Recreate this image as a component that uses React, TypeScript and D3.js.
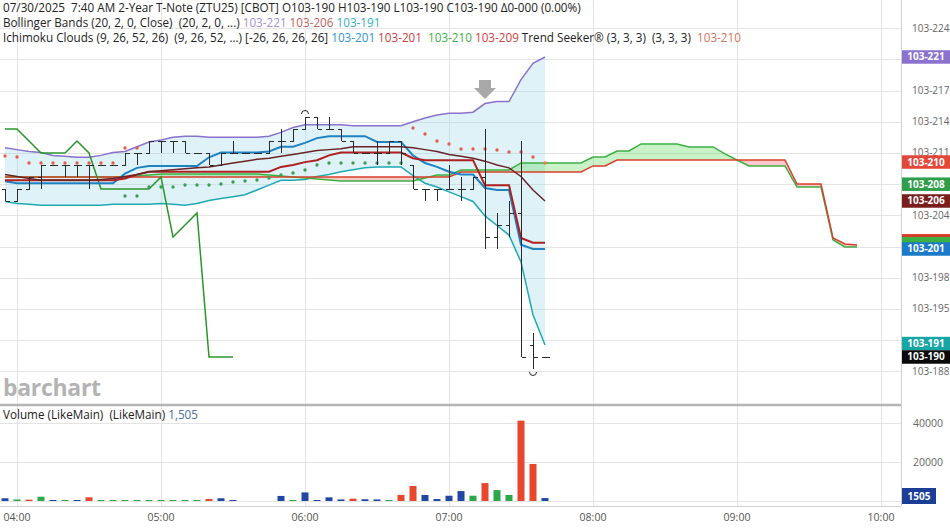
import React from 'react';
import * as d3 from 'd3';

// ---------- data (prices in 32nds above 103) ----------
const barOpen = [20.75,20.625,20.75,20.875,21.0,21.0,21.0,21.0,21.0,21.0,21.0,21.125,21.125,21.25,21.25,21.25,21.125,21.125,21.0,21.125,21.125,21.125,21.125,21.25,21.25,21.375,21.5,21.375,21.375,21.25,21.125,21.125,21.125,21.25,21.0,20.75,20.75,20.75,20.75,20.75,20.875,20.25,20.375,20.5,19.125,19.0];
const barHigh = [20.75,20.75,20.875,21.0,21.0,21.0,21.0,21.0,21.0,21.0,21.125,21.125,21.25,21.25,21.25,21.25,21.125,21.125,21.125,21.25,21.125,21.125,21.25,21.375,21.375,21.5,21.5,21.5,21.375,21.25,21.125,21.25,21.25,21.25,21.0,20.75,20.75,21.0,20.875,20.875,21.375,20.5,20.625,21.25,19.25,19.0];
const barLow = [20.625,20.625,20.75,20.75,21.0,20.875,20.875,20.75,21.0,21.0,21.0,21.0,21.125,21.125,21.125,21.125,21.125,21.0,21.0,21.125,21.125,21.125,21.125,21.125,21.25,21.375,21.375,21.375,21.25,21.125,21.125,21.0,21.125,21.0,20.75,20.625,20.625,20.75,20.625,20.75,20.125,20.125,20.25,19.0,18.875,19.0];
const barClose = [20.625,20.75,20.875,21.0,21.0,21.0,21.0,21.0,21.0,21.0,21.125,21.125,21.25,21.25,21.25,21.125,21.125,21.0,21.125,21.125,21.125,21.125,21.25,21.25,21.375,21.5,21.375,21.375,21.25,21.125,21.125,21.125,21.25,21.125,20.75,20.75,20.75,20.75,20.75,20.875,20.25,20.375,20.5,19.0,19.0,19.0];

const bbUpper = [21.18,21.16,21.14,21.13,21.10,21.09,21.08,21.08,21.10,21.13,21.14,21.19,21.24,21.26,21.29,21.30,21.30,21.29,21.29,21.29,21.29,21.29,21.30,21.34,21.39,21.42,21.42,21.42,21.42,21.41,21.41,21.41,21.41,21.41,21.45,21.49,21.52,21.54,21.54,21.55,21.64,21.66,21.66,21.89,22.06,22.125];
const bbMiddle = [20.90,20.88,20.86,20.84,20.84,20.84,20.84,20.84,20.85,20.86,20.88,20.90,20.93,20.94,20.95,20.96,20.97,20.98,21.00,21.02,21.04,21.06,21.07,21.09,21.11,21.13,21.15,21.16,21.17,21.19,21.19,21.19,21.19,21.19,21.18,21.16,21.14,21.11,21.09,21.07,21.04,21.00,20.97,20.88,20.74,20.625];
const bbLower = [20.62,20.60,20.59,20.58,20.58,20.58,20.58,20.58,20.58,20.59,20.59,20.59,20.59,20.60,20.59,20.58,20.60,20.63,20.65,20.67,20.69,20.74,20.79,20.84,20.84,20.85,20.88,20.90,20.93,20.95,20.97,20.98,20.98,20.98,20.89,20.81,20.77,20.72,20.67,20.62,20.47,20.37,20.27,19.99,19.44,19.125];

const ichiConversion = [20.83,20.81,20.81,20.81,20.81,20.81,20.81,20.81,20.81,20.81,20.91,20.97,20.99,20.99,20.99,20.99,20.99,21.08,21.13,21.13,21.13,21.13,21.14,21.19,21.19,21.23,21.28,21.30,21.30,21.30,21.30,21.24,21.24,21.24,21.10,21.02,20.98,20.93,20.90,20.90,20.76,20.74,20.74,20.17,20.125,20.125];
const ichiBase = [20.84,20.84,20.84,20.84,20.84,20.84,20.84,20.84,20.84,20.84,20.86,20.90,20.93,20.93,20.93,20.93,20.93,20.93,20.93,20.93,20.93,20.93,20.93,20.98,21.00,21.03,21.05,21.10,21.13,21.13,21.13,21.13,21.13,21.13,21.07,21.05,21.05,21.05,21.05,21.05,20.79,20.79,20.79,20.24,20.19,20.19];
const spanA = [20.875,20.875,20.875,20.875,20.875,20.875,20.875,20.875,20.875,20.875,20.875,20.885,20.896,20.906,20.906,20.906,20.906,20.906,20.906,20.906,20.906,20.906,20.896,20.885,20.875,20.865,20.854,20.844,20.833,20.833,20.833,20.833,20.833,20.833,20.833,20.865,20.896,20.896,20.948,20.948,20.948,20.948,20.948,21.021,21.021,21.021,21.021,21.021,21.021,21.083,21.083,21.146,21.146,21.219,21.219,21.219,21.219,21.188,21.188,21.188,21.115,21.052,20.99,20.99,20.99,20.99,20.771,20.771,20.771,20.219,20.146,20.146];
const spanB = [20.875,20.875,20.875,20.875,20.875,20.875,20.875,20.875,20.875,20.875,20.875,20.875,20.875,20.875,20.875,20.875,20.875,20.875,20.875,20.875,20.875,20.875,20.875,20.875,20.875,20.875,20.875,20.875,20.875,20.875,20.875,20.875,20.875,20.875,20.875,20.875,20.875,20.875,20.927,20.927,20.927,20.927,20.927,20.927,20.927,20.927,20.927,20.927,20.927,20.99,20.99,21.052,21.052,21.052,21.052,21.052,21.052,21.052,21.052,21.052,21.052,21.052,21.052,21.052,21.052,21.052,20.802,20.802,20.802,20.24,20.177,20.167];

const tsRed = [21.094,21.083,21.021,21.021,21.021,21.021,21.021,21.021,21.021,21.021,21.177,21.177,null,null,null,null,null,null,null,null,null,null,null,null,null,null,null,null,null,null,null,null,null,null,21.385,21.323,21.25,21.219,21.167,21.167,21.167,21.156,21.135,21.135,21.083,21.021];
const tsGreen = [null,null,null,null,null,null,null,null,null,null,20.677,20.677,20.771,20.771,20.771,20.792,20.792,20.792,20.802,20.823,20.833,20.844,20.865,20.896,20.917,20.948,21.0,21.021,21.021,21.021,21.021,21.021,21.021,21.021,null,null,null,null,null,null,null,null,null,null,null,null];

const volume = [1400,800,700,2200,500,500,400,1900,300,200,200,200,300,200,200,150,100,1000,1400,300,0,0,0,2600,300,4400,200,1900,800,1200,900,800,300,3100,7700,3100,1000,2700,5100,2700,9200,5600,3100,41200,19000,1505];
const volumeDir = ['b','g','r','g','b','g','b','r','g','g','g','g','g','g','g','g','g','r','b','b','b','b','b','b','g','b','b','b','b','r','b','b','g','r','r','b','b','b','b','g','r','g','g','r','r','b'];

const priceTicks = [18.85,19.175,19.5,19.825,20.15,20.475,20.8,21.125,21.45,21.775,22.1,22.425];
const priceTickLabels = ['103-188','103-191','103-195','103-198','103-201','103-204','103-208','103-211','103-214','103-217','103-221','103-224'];
const volTicks = [20000, 40000];
const volTickLabels = ['20000', '40000'];

// last-value boxes on the price axis
const boxLabels = ['103-221','103-210','103-208','103-206','103-201','103-191','103-190'];
const boxValues = [22.125, 21.031, 20.8, 20.625, 20.125, 19.14, 19.0];
const boxColors = ['#8b72cf','#e2473a','#2f9e4a','#7a1d1d','#1b7bc9','#18a5a5','#0a0a0a'];
// cloud-end boxes mostly hidden behind the 103-201 box
const stripValues = [20.21, 20.18];
const stripColors = ['#d83a2a', '#3cb043'];

// ---------- layout ----------
const W = 950, H = 528;
const PR = 901;
const PRICE_BOTTOM = 404;
const VOL_BASE = 501;
const AXIS_Y = 506;
const BOX_H = 13.5;
const FONT = "'Open Sans', 'Noto Sans', sans-serif";

const BAR_START = new Date(2025, 6, 30, 3, 55).getTime();
const barTime = (i: number) => new Date(BAR_START + i * 5 * 60000);

export default function App() {
  const x = d3.scaleTime()
    .domain([new Date(2025, 6, 30, 3, 52, 55), new Date(2025, 6, 30, 10, 8, 20)])
    .range([0, PR]);
  const y = d3.scaleLinear().domain([18.85, 22.43]).range([371.4, 27.7]);
  const yv = d3.scaleLinear().domain([0, 40000]).range([VOL_BASE, 423]);
  const tx = (i: number) => x(barTime(i));
  const hourTicks = x.ticks(d3.timeHour.every(1) as any);
  const fmt = d3.timeFormat('%H:%M');

  const lineOf = (vals: (number | null)[], offset = 0) =>
    d3.line<number | null>()
      .defined(v => v != null)
      .x((_, i) => tx(i + offset))
      .y(v => y(v as number))(vals) || '';

  const bbArea = d3.area<number>()
    .x((_, i) => tx(i))
    .y0((_, i) => y(bbLower[i]))
    .y1(v => y(v))(bbUpper) || '';

  const idx = d3.range(spanA.length);
  const clipAboveB = d3.area<number>().x(i => tx(i)).y0(i => y(spanB[i])).y1(0)(idx) || '';
  const clipBelowB = d3.area<number>().x(i => tx(i)).y0(i => y(spanB[i])).y1(PRICE_BOTTOM)(idx) || '';
  const fillBelowA = d3.area<number>().x(i => tx(i)).y0(PRICE_BOTTOM).y1(i => y(spanA[i]))(idx) || '';
  const fillAboveA = d3.area<number>().x(i => tx(i)).y0(0).y1(i => y(spanA[i]))(idx) || '';

  const lagging = barClose.slice(26);

  const volColor: Record<string, string> = { b: '#2246a3', g: '#2ca84b', r: '#e8472e' };

  const px = (v: number) => Math.round(v) + 0.5;

  const hiIdx = 25, loIdx = 44, arrowIdx = 40;

  const tickVisible = (t: number) => !boxValues.some(b => Math.abs(y(b) - y(t)) < 6);

  return (
    <svg width={W} height={H} style={{ position: 'absolute', left: 0, top: 0, background: '#fff', fontFamily: FONT }}>
      <defs>
        <clipPath id="plot"><rect x={0} y={0} width={PR} height={PRICE_BOTTOM} /></clipPath>
        <clipPath id="aboveB"><path d={clipAboveB} /></clipPath>
        <clipPath id="belowB"><path d={clipBelowB} /></clipPath>
      </defs>

      <g stroke="#e4e4e4" strokeWidth={1}>
        {priceTicks.map((t, k) => <line key={'pg' + k} x1={0} x2={PR} y1={px(y(t))} y2={px(y(t))} />)}
        {hourTicks.map((t, k) => <line key={'vg' + k} x1={px(x(t))} x2={px(x(t))} y1={0} y2={AXIS_Y} />)}
        {volTicks.map((t, k) => <line key={'vv' + k} x1={0} x2={PR} y1={px(yv(t))} y2={px(yv(t))} />)}
        <line x1={0} x2={PR} y1={px(yv(0))} y2={px(yv(0))} />
      </g>

      <g clipPath="url(#plot)">
        <path d={bbArea} fill="rgba(150,212,228,0.3)" />
        <path d={fillBelowA} fill="rgba(60,210,60,0.28)" clipPath="url(#aboveB)" />
        <path d={fillAboveA} fill="rgba(235,80,80,0.3)" clipPath="url(#belowB)" />

        <path d={lineOf(bbUpper)} fill="none" stroke="#8a72cc" strokeWidth={1.5} />
        <path d={lineOf(bbLower)} fill="none" stroke="#1fa9b2" strokeWidth={1.5} />

        <path d={lineOf(spanA)} fill="none" stroke="#3cb043" strokeWidth={1.5} />
        <path d={lineOf(spanB)} fill="none" stroke="#d9402c" strokeWidth={1.5} />
        <path d={lineOf(lagging)} fill="none" stroke="#2b962b" strokeWidth={1.5} />
        <path d={lineOf(ichiConversion)} fill="none" stroke="#1f82c2" strokeWidth={2} />
        <path d={lineOf(ichiBase)} fill="none" stroke="#b01f22" strokeWidth={2} />
        <path d={lineOf(bbMiddle)} fill="none" stroke="#6a2424" strokeWidth={1.5} />

        {tsRed.map((v, i) => v == null ? null :
          <circle key={'tr' + i} cx={tx(i)} cy={y(v)} r={1.7} fill={i === tsRed.length - 1 ? '#ec7a3c' : '#e0604c'} />)}
        {tsGreen.map((v, i) => v == null ? null :
          <circle key={'tg' + i} cx={tx(i)} cy={y(v)} r={1.7} fill="#3a9e55" />)}

        <g stroke="#2a2a2a" strokeWidth={1} shapeRendering="crispEdges">
          {barHigh.map((h, i) => {
            const cx = px(tx(i));
            return (
              <g key={'b' + i}>
                <line x1={cx} x2={cx} y1={y(h)} y2={y(barLow[i]) + (barLow[i] === h ? 1 : 0)} />
                <line x1={cx - 4} x2={cx} y1={px(y(barOpen[i]))} y2={px(y(barOpen[i]))} />
                <line x1={cx} x2={cx + 4} y1={px(y(barClose[i]))} y2={px(y(barClose[i]))} />
              </g>
            );
          })}
        </g>
        <path d={`M${tx(hiIdx) - 3.5},${y(barHigh[hiIdx]) - 3} A3.5,3.5 0 0 1 ${tx(hiIdx) + 3.5},${y(barHigh[hiIdx]) - 3}`} fill="none" stroke="#2a2a2a" strokeWidth={1} />
        <path d={`M${tx(loIdx) - 3.5},${y(barLow[loIdx]) + 3} A3.5,3.5 0 0 0 ${tx(loIdx) + 3.5},${y(barLow[loIdx]) + 3}`} fill="none" stroke="#2a2a2a" strokeWidth={1} />
        <path d={`M${tx(arrowIdx) - 6},${y(barHigh[arrowIdx]) - 49} h12 v8 h5 l-11,11 l-11,-11 h5 z`} fill="#a8a8a8" />
      </g>

      {volume.map((v, i) => v <= 0 ? null :
        <rect key={'v' + i} x={tx(i) - 3.5} width={7} y={Math.min(yv(v), VOL_BASE - 1)}
          height={Math.max(VOL_BASE - yv(v), 1)} fill={volColor[volumeDir[i]]} />)}

      <line x1={0} x2={PR} y1={405} y2={405} stroke="#b4b4b4" strokeWidth={2.5} />
      <line x1={0} x2={PR} y1={AXIS_Y + 0.5} y2={AXIS_Y + 0.5} stroke="#d0d0d0" />
      <line x1={PR + 0.5} x2={PR + 0.5} y1={0} y2={AXIS_Y} stroke="#cfcfcf" />

      <text x={3} y={396} fontSize={23} fontWeight={700} fill="#b3b3b3" style={{ letterSpacing: '-0.3px' }}>barchart</text>

      {priceTicks.map((t, k) => tickVisible(t) ? (
        <text key={'pl' + k} x={912} y={y(t) + 3.5} fontSize={10} fill="#666">{priceTickLabels[k]}</text>
      ) : null)}
      {stripValues.map((v, k) => (
        <rect key={'st' + k} x={902} y={y(v) - BOX_H / 2} width={48} height={BOX_H} fill={stripColors[k]} />
      ))}
      {boxLabels.map((l, k) => {
        const cy = y(boxValues[k]);
        return (
          <g key={'bx' + k}>
            <rect x={902} y={cy - BOX_H / 2} width={48} height={BOX_H} fill={boxColors[k]} />
            <text x={926} y={cy + 3.5} fontSize={10} fontWeight={700} fill="#fff" textAnchor="middle">{l}</text>
          </g>
        );
      })}

      {volTicks.map((t, k) => (
        <text key={'vl' + k} x={913} y={yv(t) + 4} fontSize={10.5} fill="#666">{volTickLabels[k]}</text>
      ))}
      <rect x={902} y={488} width={34} height={16} fill="#1d3e97" />
      <text x={919} y={500} fontSize={10} fontWeight={700} fill="#fff" textAnchor="middle">1505</text>

      {hourTicks.map((t, k) => (
        <text key={'tl' + k} x={x(t)} y={521} fontSize={10.5} fill="#555" textAnchor="middle">{fmt(t)}</text>
      ))}

      <g fontSize={11.7} fill="#222">
        <text x={3} y={12} xmlSpace="preserve">07/30/2025  7:40 AM 2-Year T-Note (ZTU25) [CBOT] O103-190 H103-190 L103-190 C103-190 Δ0-000 (0.00%)</text>
        <text x={3} y={27} xmlSpace="preserve">
          <tspan>Bollinger Bands (20, 2, 0, Close)  (20, 2, 0, ...) </tspan>
          <tspan fill="#a78fd8">103-221 </tspan>
          <tspan fill="#b8645e">103-206 </tspan>
          <tspan fill="#34b0bd">103-191</tspan>
        </text>
        <text x={3} y={42} xmlSpace="preserve">
          <tspan>Ichimoku Clouds (9, 26, 52, 26)  (9, 26, 52, ...) [-26, 26, 26, 26] </tspan>
          <tspan fill="#2e95cf">103-201 </tspan>
          <tspan fill="#c8403c">103-201  </tspan>
          <tspan fill="#3cb043">103-210 </tspan>
          <tspan fill="#d0403c">103-209 </tspan>
          <tspan>Trend Seeker® (3, 3, 3)  (3, 3, 3)  </tspan>
          <tspan fill="#d27262">103-210</tspan>
        </text>
        <text x={3} y={419} xmlSpace="preserve">
          <tspan>Volume (LikeMain)  (LikeMain) </tspan>
          <tspan fill="#4d6d9e">1,505</tspan>
        </text>
      </g>
    </svg>
  );
}
